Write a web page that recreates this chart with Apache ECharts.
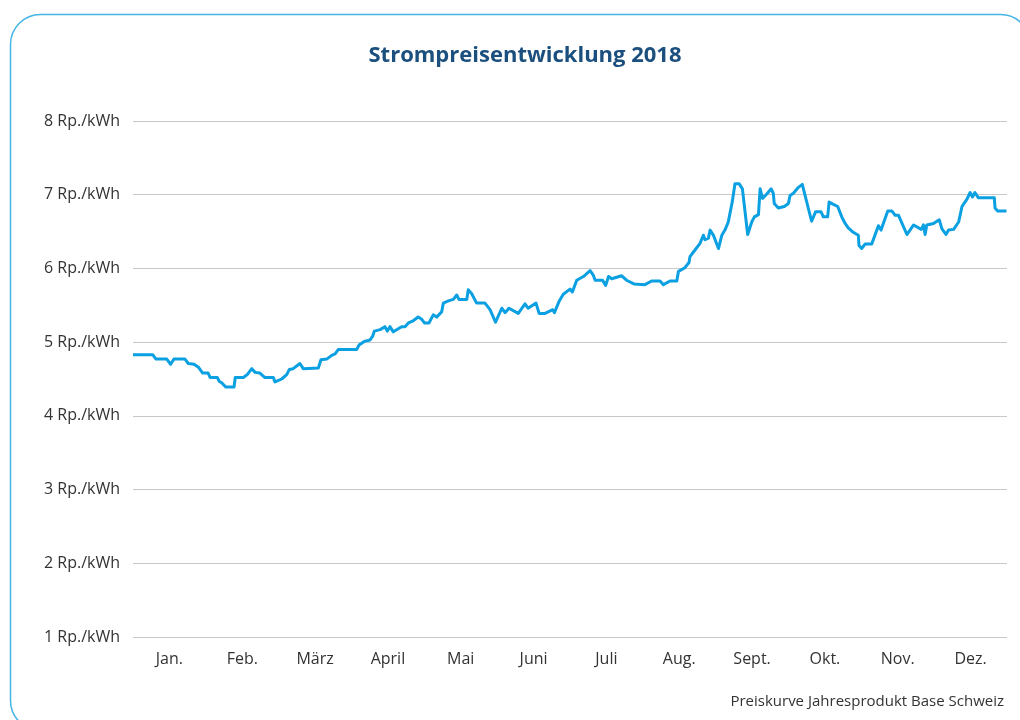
<!DOCTYPE html>
<html>
<head>
<meta charset="utf-8">
<script src="https://cdn.jsdelivr.net/npm/echarts@6/dist/echarts.min.js"></script>
<style>
html,body{margin:0;padding:0;background:#fff;}
#chart{width:1020px;height:720px;}
</style>
</head>
<body>
<div id="chart"></div>
<script>
const titleText = 'Strompreisentwicklung 2018';
const sourceText = 'Preiskurve Jahresprodukt Base Schweiz';
const months = ['Jan.','Feb.','März','April','Mai','Juni','Juli','Aug.','Sept.','Okt.','Nov.','Dez.'];
const yTicks = [1,2,3,4,5,6,7,8];
const unit = 'Rp./kWh';
// day of year (0..365)
const days = [0,8.2,9.6,14.1,15.7,17.1,21.7,23.1,25.5,27.3,29.1,31.4,32.2,35.2,36.0,37.0,38.8,42.2,42.7,46.1,
47.7,49.6,51.0,53.0,55.1,58.6,59.3,62.1,64.2,65.3,66.9,69.7,71.1,77.4,
78.5,80.9,83.0,84.4,85.7,93.4,94.4,96.6,99.0,100.1,100.8,103.2,105.2,106.2,107.3,108.7,112.2,113.6,115.0,117.0,119.1,120.6,121.7,123.6,125.4,126.8,128.9,129.6,131.7,133.8,135.2,136.1,139.4,140.0,141.4,142.1,
143.5,147.0,149.1,151.4,154.0,155.4,157.0,160.9,163.7,165.0,168.3,169.6,172.1,175.3,176.0,177.9,179.7,182.5,183.5,185.3,188.1,190.9,192.2,193.0,196.1,197.4,198.6,199.9,204.1,206.1,209.2,213.8,
216.6,220.1,221.5,224.3,227.1,227.8,230.5,232.2,232.6,234.7,236.8,238.2,238.9,240.3,241.0,242.4,244.5,245.9,247.2,248.6,250.3,251.4,253.1,254.5,256.7,258.4,259.5,261.2,261.9,262.9,264.7,266.5,267.4,267.8,269.5,272.0,273.7,274.4,275.8,277.9,279.5,283.4,285.1,
287.3,288.3,290.1,290.7,292.5,294.3,296.0,296.7,297.4,298.7,300.8,302.9,303.2,304.3,305.7,308.5,311.3,312.4,315.2,316.9,318.3,319.7,323.2,326.0,329.2,330.1,330.8,331.5,334.3,336.7,337.8,339.5,340.6,342.7,344.8,346.2,348.3,349.6,350.6,351.6,353.0,359.7,360.0,361.1,364.8];
// price in Rp./kWh
const prices = [4.83,4.83,4.77,4.77,4.70,4.77,4.77,4.71,4.70,4.66,4.58,4.58,4.52,4.52,4.47,4.45,4.39,4.39,4.52,4.52,
4.56,4.64,4.59,4.58,4.52,4.52,4.46,4.50,4.56,4.63,4.64,4.71,4.64,4.65,
4.76,4.77,4.82,4.84,4.90,4.90,4.96,5.01,5.03,5.08,5.15,5.17,5.21,5.15,5.21,5.14,5.21,5.21,5.26,5.29,5.34,5.31,5.26,5.26,5.37,5.34,5.41,5.53,5.56,5.58,5.64,5.58,5.58,5.71,5.66,5.66,
5.53,5.53,5.44,5.27,5.46,5.40,5.46,5.39,5.52,5.46,5.53,5.39,5.39,5.44,5.40,5.55,5.65,5.72,5.68,5.84,5.89,5.97,5.91,5.84,5.84,5.77,5.89,5.86,5.90,5.84,5.79,5.78,
5.83,5.83,5.78,5.83,5.83,5.96,6.01,6.08,6.16,6.25,6.34,6.45,6.39,6.41,6.52,6.45,6.27,6.45,6.52,6.63,6.91,7.15,7.15,7.08,6.46,6.63,6.70,6.73,7.08,6.95,7.01,7.08,7.02,6.88,6.82,6.84,6.88,6.99,7.02,7.10,7.14,6.64,6.77,
6.77,6.70,6.70,6.90,6.87,6.84,6.70,6.70,6.61,6.55,6.49,6.45,6.31,6.27,6.33,6.33,6.58,6.52,6.78,6.78,6.72,6.72,6.46,6.59,6.53,6.59,6.46,6.59,6.61,6.66,6.54,6.46,6.52,6.53,6.63,6.84,6.94,7.03,6.97,7.03,6.96,6.96,6.82,6.78,6.78];

const seriesData = days.map((d, i) => [d, prices[i]]);

const chart = echarts.init(document.getElementById('chart'), null, {renderer: 'canvas'});
const font = '"Open Sans", "Noto Sans", sans-serif';
chart.setOption({
  animation: false,
  backgroundColor: '#fff',
  title: {
    text: titleText,
    left: 520,
    textAlign: 'center',
    top: 40,
    textStyle: {fontFamily: font, fontSize: 22, fontWeight: 'bold', color: '#1b4f7e'}
  },
  grid: {left: 133, right: 13, top: 121, bottom: 83, containLabel: false},
  xAxis: [
    {
      type: 'category',
      data: months,
      boundaryGap: true,
      axisLine: {show: false},
      axisTick: {show: false},
      splitLine: {show: false},
      axisLabel: {fontFamily: font, fontSize: 16, color: '#333', margin: 14}
    },
    {
      type: 'value',
      min: 0,
      max: 365,
      show: false
    }
  ],
  yAxis: {
    type: 'value',
    min: yTicks[0],
    max: yTicks[yTicks.length - 1],
    interval: 1,
    axisLine: {show: false},
    axisTick: {show: false},
    axisLabel: {fontFamily: font, fontSize: 16, color: '#333', margin: 13, formatter: v => v + ' ' + unit},
    splitLine: {lineStyle: {color: '#c8c8c8', width: 1}}
  },
  series: [{
    type: 'line',
    xAxisIndex: 1,
    data: seriesData,
    showSymbol: false,
    symbol: 'none',
    lineStyle: {color: '#0aa0e2', width: 3, join: 'round'},
    z: 3
  }],
  graphic: [
    {
      type: 'rect',
      shape: {x: 10.5, y: 14.5, width: 1020, height: 716, r: 30},
      style: {fill: 'none', stroke: '#45b4e6', lineWidth: 1.5},
      silent: true,
      z: -1
    },
    {
      type: 'text',
      right: 16,
      top: 694,
      style: {text: sourceText, fontFamily: font, fontSize: 15, fill: '#333'}
    }
  ]
});
</script>
</body>
</html>
